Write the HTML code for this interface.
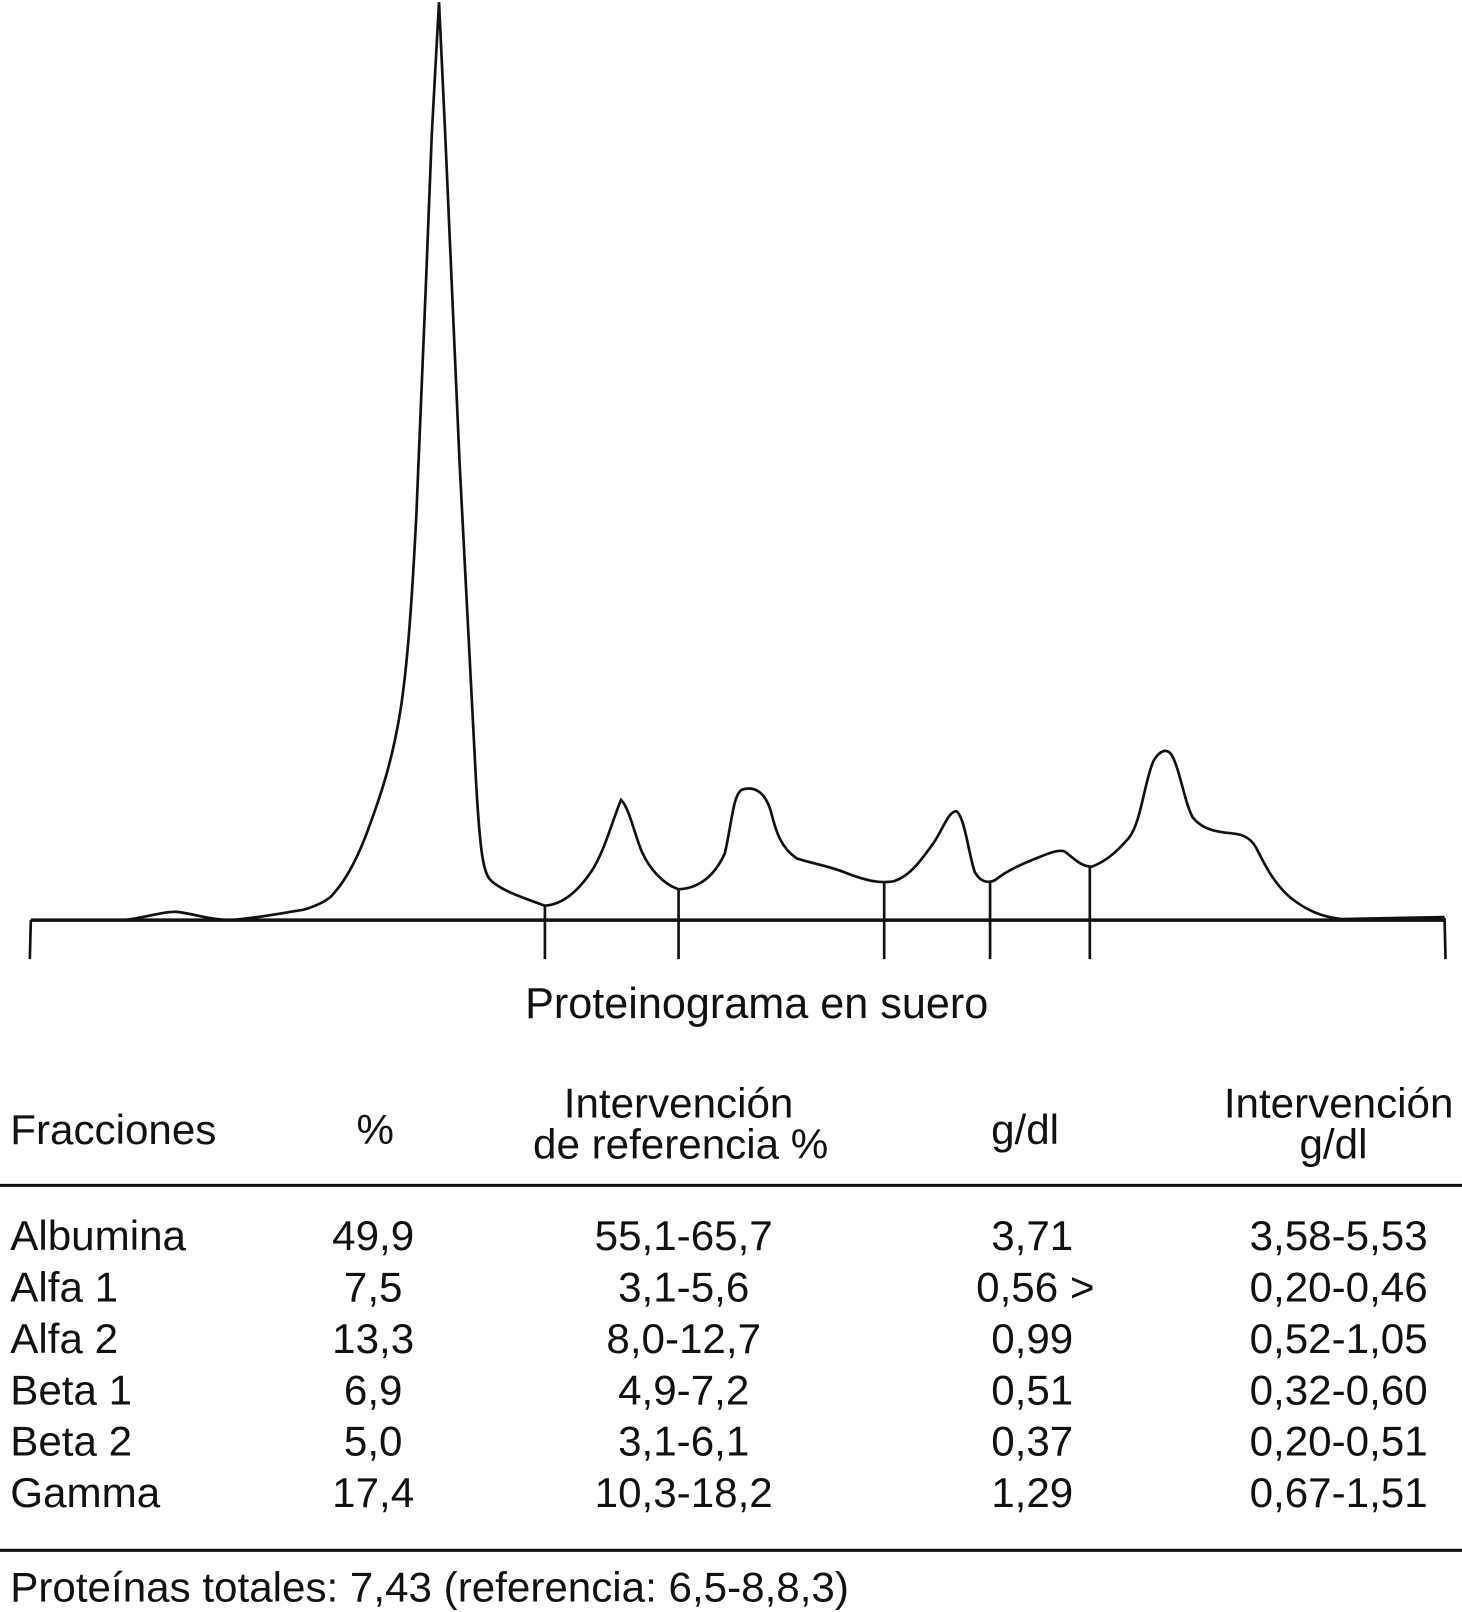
<!DOCTYPE html>
<html><head><meta charset="utf-8"><style>html,body{margin:0;padding:0;background:#fff}svg{display:block}</style></head>
<body>
<svg width="1462" height="1612" viewBox="0 0 1422 1568" preserveAspectRatio="none" xmlns="http://www.w3.org/2000/svg" font-family="Liberation Sans, Arial, sans-serif" fill="#111">
<g stroke="#111" fill="none" stroke-width="2.6">
<path d="M30,895 L120,895 C140,893 160,886 172,887 C190,889 205,895 225,895 C250,893 275,888 295,885 C305,882 315,878 322,872 C335,858 345,840 355,815 C370,775 380,745 388,700 C395,660 400,600 405,500 C410,400 415,250 420,130 L427,2 L433,130 C438,250 442,350 447,450 C452,550 457,650 463,760 C467,830 470,850 478,857 C488,866 505,872 530,881 C545,880 560,870 575,848 C588,828 595,800 604,778 C612,785 618,815 625,830 C632,845 645,860 660,865 C680,864 695,852 705,830 C712,800 713,772 722,768 C735,764 745,772 750,790 C755,810 760,825 775,835 C790,840 805,842 820,848 C840,856 855,860 870,857 C885,852 895,838 908,820 C918,805 922,790 930,789 C938,793 942,830 948,848 C953,857 960,860 968,856 C978,848 990,842 1005,836 C1018,831 1028,826 1035,828 C1043,833 1050,843 1062,843 C1075,838 1085,830 1098,815 C1110,800 1113,760 1122,740 C1128,730 1135,727 1140,735 C1148,750 1152,780 1160,795 C1168,805 1178,808 1192,810 C1205,811 1215,812 1222,825 C1232,845 1240,860 1255,873 C1270,885 1285,892 1305,894 L1405,892"/>
<path d="M30,895 L1405,895" stroke-width="3.5"/>
<path d="M30,895 L29,933 M1405,893 L1406,933 M530,881 L530,933 M660,865 L660,933 M860,858 L860,933 M963,858 L963,933 M1060,843 L1060,933"/>
<path d="M0,1153 L1422,1153 M0,1508 L1422,1508" stroke-width="3"/>
</g>
<g font-size="41">
<text x="736" y="990" text-anchor="middle" font-size="42">Proteinograma en suero</text>
<text x="10" y="1113">Fracciones</text>
<text x="365" y="1113" text-anchor="middle">%</text>
<text x="660" y="1087" text-anchor="middle">Intervención</text>
<text x="662" y="1127" text-anchor="middle">de referencia %</text>
<text x="997" y="1113" text-anchor="middle">g/dl</text>
<text x="1302" y="1087" text-anchor="middle">Intervención</text>
<text x="1297" y="1127" text-anchor="middle">g/dl</text>
<g>
<text x="10" y="1216">Albumina</text><text x="363" y="1216" text-anchor="middle">49,9</text><text x="665" y="1216" text-anchor="middle">55,1-65,7</text><text x="1004" y="1216" text-anchor="middle">3,71</text><text x="1302" y="1216" text-anchor="middle">3,58-5,53</text>
<text x="10" y="1266">Alfa 1</text><text x="363" y="1266" text-anchor="middle">7,5</text><text x="665" y="1266" text-anchor="middle">3,1-5,6</text><text x="1007" y="1266" text-anchor="middle">0,56 &gt;</text><text x="1302" y="1266" text-anchor="middle">0,20-0,46</text>
<text x="10" y="1316">Alfa 2</text><text x="363" y="1316" text-anchor="middle">13,3</text><text x="665" y="1316" text-anchor="middle">8,0-12,7</text><text x="1004" y="1316" text-anchor="middle">0,99</text><text x="1302" y="1316" text-anchor="middle">0,52-1,05</text>
<text x="10" y="1366">Beta 1</text><text x="363" y="1366" text-anchor="middle">6,9</text><text x="665" y="1366" text-anchor="middle">4,9-7,2</text><text x="1004" y="1366" text-anchor="middle">0,51</text><text x="1302" y="1366" text-anchor="middle">0,32-0,60</text>
<text x="10" y="1416">Beta 2</text><text x="363" y="1416" text-anchor="middle">5,0</text><text x="665" y="1416" text-anchor="middle">3,1-6,1</text><text x="1004" y="1416" text-anchor="middle">0,37</text><text x="1302" y="1416" text-anchor="middle">0,20-0,51</text>
<text x="10" y="1466">Gamma</text><text x="363" y="1466" text-anchor="middle">17,4</text><text x="665" y="1466" text-anchor="middle">10,3-18,2</text><text x="1004" y="1466" text-anchor="middle">1,29</text><text x="1302" y="1466" text-anchor="middle">0,67-1,51</text>
</g>
<text x="10" y="1558">Proteínas totales: 7,43 (referencia: 6,5-8,8,3)</text>
</g>
</svg>
</body></html>
